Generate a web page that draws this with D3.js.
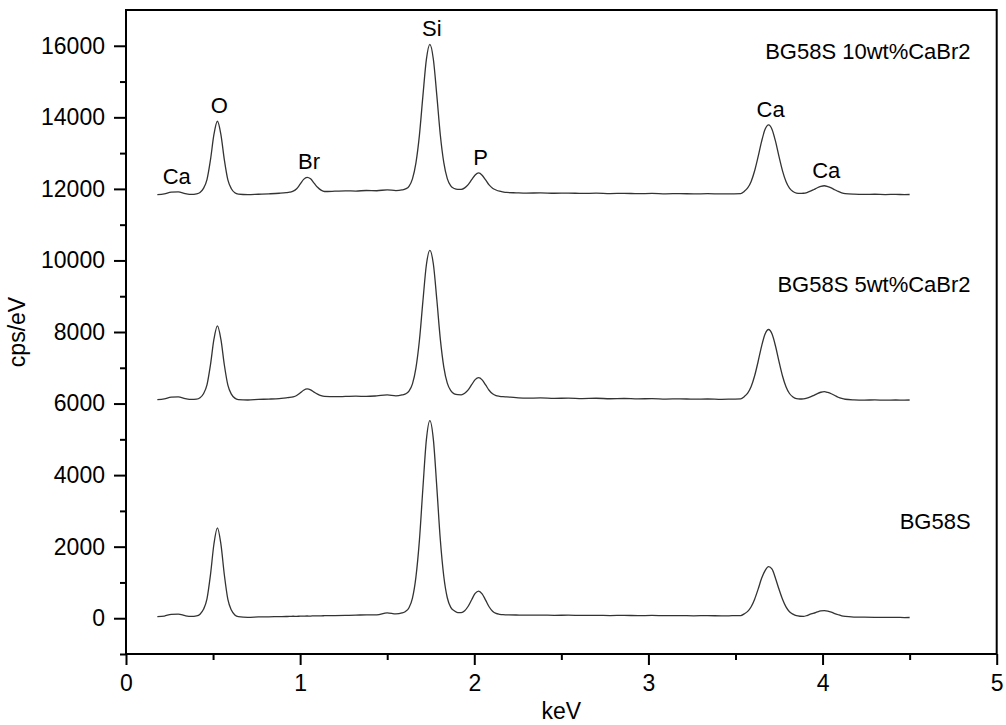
<!DOCTYPE html>
<html>
<head>
<meta charset="utf-8">
<script src="https://cdn.jsdelivr.net/npm/d3@7/dist/d3.min.js"></script>
<style>
  html, body { margin: 0; padding: 0; background: #fff; }
  svg { display: block; font-family: "Liberation Sans", Arial, sans-serif; }
</style>
</head>
<body>
<svg id="chart" width="1006" height="725"></svg>
<script>
// Energy grid (keV) shared by the three EDS spectra
const keV = [
  0.18, 0.22, 0.26, 0.30, 0.34, 0.375,
  0.405, 0.425, 0.445, 0.465, 0.485, 0.505, 0.525, 0.545, 0.565, 0.585, 0.605, 0.625, 0.645,
  0.70, 0.76, 0.82, 0.88, 0.92,
  0.94, 0.96, 0.98, 1.00, 1.02, 1.04, 1.06, 1.08, 1.10, 1.12, 1.14,
  1.20, 1.26, 1.32, 1.38, 1.44, 1.50, 1.55,
  1.585, 1.605, 1.625, 1.645, 1.665, 1.685, 1.705, 1.725, 1.745, 1.765, 1.785, 1.805, 1.825, 1.845, 1.865,
  1.885, 1.905, 1.925, 1.945, 1.965, 1.985, 2.005, 2.025, 2.045, 2.065, 2.085, 2.105, 2.125, 2.145, 2.165, 2.185,
  2.24, 2.30, 2.38, 2.46, 2.54, 2.62, 2.70, 2.78, 2.86, 2.94, 3.02, 3.10, 3.18, 3.26, 3.34, 3.42, 3.48, 3.53,
  3.55, 3.57, 3.59, 3.61, 3.63, 3.65, 3.67, 3.69, 3.71, 3.73, 3.75, 3.77, 3.79, 3.81, 3.83,
  3.85, 3.87, 3.89, 3.91, 3.93, 3.95, 3.97, 3.99, 4.01, 4.03, 4.05, 4.07, 4.09, 4.11, 4.13,
  4.18, 4.24, 4.30, 4.36, 4.42, 4.47, 4.50
];

// cps/eV, BG58S
const bg58s = [
  45, 60, 110, 115, 70, 50,
  65, 112, 248, 541, 1211, 2074, 2527, 2069, 1201, 526, 228, 92, 43,
  25, 35, 40, 45, 48,
  50, 55, 52, 58, 60, 62, 60, 66, 64, 68, 70,
  75, 80, 85, 95, 92, 150, 120,
  147, 190, 292, 562, 1156, 2182, 3640, 4990, 5525, 5000, 3650, 2192, 1166, 572, 302,
  208, 157, 158, 211, 335, 517, 692, 760, 682, 507, 320, 196, 133, 110, 98, 95,
  90, 85, 88, 80, 85, 78, 82, 75, 80, 72, 78, 70, 75, 68, 72, 65, 70, 75,
  123, 191, 322, 533, 813, 1116, 1330, 1440, 1370, 1111, 808, 528, 317, 181, 114,
  70, 55, 52, 75, 112, 141, 177, 204, 212, 199, 172, 131, 97, 67, 50,
  33, 28, 25, 22, 25, 18, 20
];

// cps/eV, BG58S 5wt%CaBr2 (offset trace)
const bg58s5 = [
  6110, 6130, 6180, 6185, 6140, 6115,
  6122, 6162, 6275, 6523, 7081, 7798, 8171, 7793, 7071, 6513, 6265, 6152, 6112,
  6100, 6115, 6125, 6140, 6160,
  6170, 6189, 6226, 6297, 6372, 6408, 6383, 6320, 6262, 6219, 6199,
  6192, 6198, 6205, 6200, 6215, 6240, 6215,
  6240, 6269, 6347, 6550, 6996, 7768, 8864, 9879, 10280, 9900, 8900, 7800, 7020, 6570, 6360,
  6271, 6248, 6245, 6288, 6382, 6527, 6668, 6723, 6663, 6522, 6372, 6273, 6221, 6203, 6192, 6185,
  6165, 6150, 6158, 6145, 6152, 6140, 6148, 6135, 6142, 6130, 6138, 6125, 6132, 6122, 6128, 6118, 6125, 6130,
  6193, 6291, 6476, 6776, 7176, 7607, 7946, 8070, 7941, 7602, 7171, 6771, 6471, 6281, 6184,
  6136, 6127, 6132, 6152, 6186, 6231, 6279, 6316, 6333, 6311, 6274, 6226, 6176, 6142, 6120,
  6104, 6098, 6102, 6095, 6100, 6096, 6100
];

// cps/eV, BG58S 10wt%CaBr2 (offset trace)
const bg58s10 = [
  11840, 11860, 11910, 11915, 11870, 11845,
  11862, 11901, 12013, 12258, 12809, 13521, 13890, 13518, 12804, 12250, 12005, 11891, 11852,
  11838, 11850, 11862, 11878, 11895,
  11909, 11936, 12005, 12132, 12266, 12323, 12280, 12162, 12044, 11965, 11927,
  11935, 11945, 11940, 11955, 11948, 11975, 11950,
  11970, 11999, 12072, 12281, 12728, 13502, 14601, 15618, 16039, 15623, 14606, 13507, 12733, 12286, 12082,
  12011, 11987, 11988, 12028, 12120, 12256, 12387, 12445, 12382, 12251, 12110, 12018, 11969, 11935, 11915, 11900,
  11890, 11882, 11888, 11878, 11884, 11872, 11880, 11870, 11876, 11866, 11872, 11862, 11868, 11860, 11866, 11858, 11862, 11868,
  11930, 12026, 12209, 12507, 12902, 13329, 13665, 13790, 13663, 13327, 12900, 12505, 12207, 12022, 11926,
  11881, 11872, 11878, 11899, 11935, 11982, 12032, 12070, 12088, 12065, 12027, 11977, 11928, 11892, 11869,
  11852, 11846, 11850, 11842, 11846, 11840, 11843
];

const seriesNames = ["BG58S", "BG58S 5wt%CaBr2", "BG58S 10wt%CaBr2"];
const seriesValues = [bg58s, bg58s5, bg58s10];

// Element lines marked above the top trace
const elementNames = ["Ca", "O", "Br", "Si", "P", "Ca", "Ca"];
const elementEnergies = [0.28, 0.525, 1.04, 1.745, 2.025, 3.69, 4.01];

const xMajorTicks = [0, 1, 2, 3, 4, 5];
const xMinorTicks = [0.5, 1.5, 2.5, 3.5, 4.5];
const yMajorTicks = [0, 2000, 4000, 6000, 8000, 10000, 12000, 14000, 16000];
const yMinorTicks = [-1000, 1000, 3000, 5000, 7000, 9000, 11000, 13000, 15000];

// ---- layout ----
const W = 1006, H = 725;
const margin = { left: 126, right: 9.3, top: 10, bottom: 71 };
const svg = d3.select("#chart");

const x = d3.scaleLinear().domain([0, 5]).range([margin.left, W - margin.right]);
const y = d3.scaleLinear().domain([-1000, 17000]).range([H - margin.bottom, margin.top]);

// spectra
const line = d3.line()
  .x(d => x(d[0]))
  .y(d => y(d[1]))
  .curve(d3.curveMonotoneX);

seriesValues.forEach(vals => {
  svg.append("path")
    .datum(keV.map((k, i) => [k, vals[i]]))
    .attr("fill", "none")
    .attr("stroke", "#333")
    .attr("stroke-width", 1.3)
    .attr("stroke-linejoin", "round")
    .attr("d", line);
});

// axes
const axisStyle = g => {
  g.selectAll(".domain").remove();
  g.selectAll(".tick line").attr("stroke", "#000").attr("stroke-width", 2);
  g.selectAll(".tick text").attr("fill", "#000").style("font-size", "23px")
    .style("font-family", "'Liberation Sans', Arial, sans-serif");
};

svg.append("g")
  .attr("transform", `translate(0,${y(-1000)})`)
  .call(d3.axisBottom(x).tickValues(xMajorTicks).tickSize(11).tickPadding(10).tickFormat(d3.format("d")))
  .call(axisStyle);
svg.append("g")
  .attr("transform", `translate(0,${y(-1000)})`)
  .call(d3.axisBottom(x).tickValues(xMinorTicks).tickSize(6).tickFormat(""))
  .call(axisStyle);

svg.append("g")
  .attr("transform", `translate(${x(0)},0)`)
  .call(d3.axisLeft(y).tickValues(yMajorTicks).tickSize(12).tickPadding(9).tickFormat(d3.format("d")))
  .call(axisStyle);
svg.append("g")
  .attr("transform", `translate(${x(0)},0)`)
  .call(d3.axisLeft(y).tickValues(yMinorTicks).tickSize(6).tickFormat(""))
  .call(axisStyle);

// frame
svg.append("rect")
  .attr("x", x(0)).attr("y", y(17000))
  .attr("width", x(5) - x(0)).attr("height", y(-1000) - y(17000))
  .attr("fill", "none").attr("stroke", "#000").attr("stroke-width", 2);

// axis titles
svg.append("text")
  .attr("x", (x(0) + x(5)) / 2).attr("y", 719)
  .attr("text-anchor", "middle")
  .style("font-size", "23px").text("keV");

svg.append("text")
  .attr("transform", `translate(25,${(y(-1000) + y(17000)) / 2}) rotate(-90)`)
  .attr("text-anchor", "middle")
  .style("font-size", "23px").text("cps/eV");

// trace names, right-aligned inside the frame
const nameLevels = [2494, 9126, 15630];
seriesNames.forEach((name, i) => {
  svg.append("text")
    .attr("x", x(4.85)).attr("y", y(nameLevels[i]))
    .attr("text-anchor", "end")
    .style("font-size", "22px").text(name);
});

// element labels, set just above the top trace
const topTrace = bg58s10;
elementNames.forEach((name, i) => {
  const e = elementEnergies[i];
  let peak = -Infinity;
  keV.forEach((k, j) => { if (Math.abs(k - e) <= 0.03) peak = Math.max(peak, topTrace[j]); });
  svg.append("text")
    .attr("x", x(e) + 2).attr("y", y(peak) - 8)
    .attr("text-anchor", "middle")
    .style("font-size", "22px").text(name);
});
</script>
</body>
</html>
